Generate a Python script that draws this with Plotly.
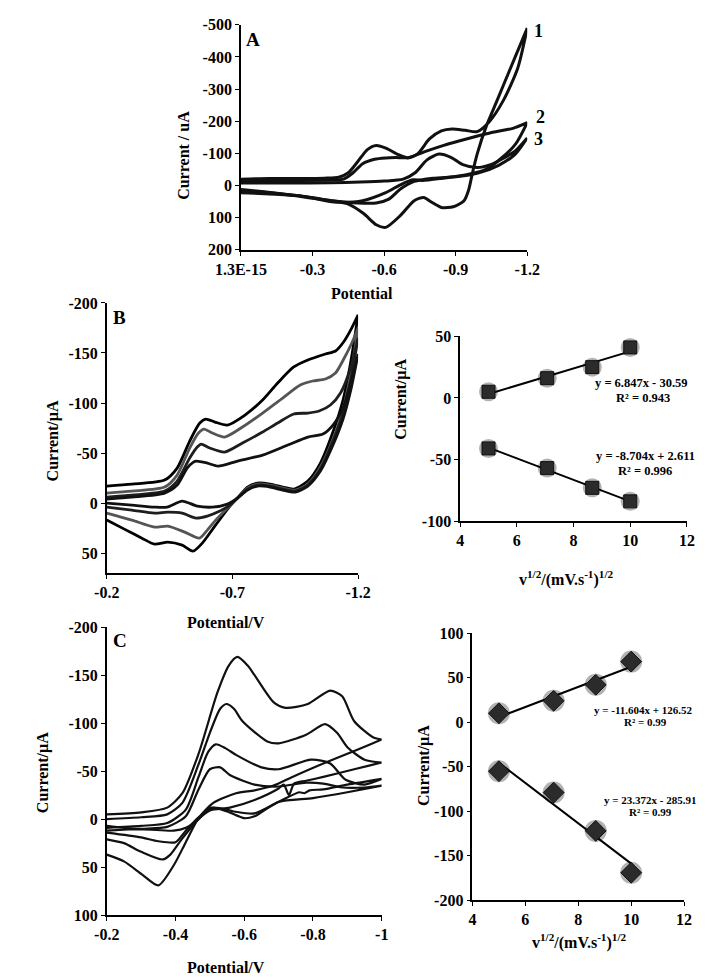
import numpy as np
import plotly.graph_objects as go

W, H = 708, 980
FONT = "Liberation Serif"

# ---------------- Panel A data (Potential / V, Current / uA) ----------------
A1_fwd_V = [0, -0.12, -0.25, -0.35, -0.41, -0.45, -0.49, -0.53, -0.567, -0.61, -0.66, -0.70, -0.74, -0.79, -0.84, -0.885, -0.94, -0.99, -1.04, -1.1, -1.16, -1.2]
A1_fwd_I = [-20, -22, -22, -23, -26, -40, -75, -112, -125, -116, -96, -86, -98, -145, -170, -176, -172, -168, -198, -265, -365, -490]
A1_rev_V = [-1.2, -1.15, -1.1, -1.06, -1.03, -0.99, -0.97, -0.955, -0.935, -0.89, -0.84, -0.8, -0.766, -0.726, -0.67, -0.607, -0.567, -0.514, -0.448, -0.38, -0.25, -0.12, 0]
A1_rev_I = [-490, -401, -312, -241, -188, -98, -38, 12, 47, 66, 68, 52, 37, 47, 92, 130, 122, 87, 57, 47, 32, 22, 17]

A2_fwd_V = [0, -0.2, -0.38, -0.43, -0.47, -0.51, -0.56, -0.607, -0.65, -0.70, -0.78, -0.85, -0.91, -0.98, -1.04, -1.1, -1.14, -1.2]
A2_fwd_I = [-15, -16, -17, -20, -40, -68, -82, -86, -87, -87, -108, -125, -138, -152, -163, -172, -178, -196]
A2_rev_V = [-1.2, -1.15, -1.08, -1.02, -0.94, -0.845, -0.76, -0.72, -0.67, -0.607, -0.51, -0.42, -0.38, -0.25, -0.12, 0]
A2_rev_I = [-196, -128, -78, -48, -33, -23, -16, -18, -3, 22, 47, 52, 50, 32, 26, 22]

A3_fwd_V = [0, -0.2, -0.38, -0.5, -0.6, -0.68, -0.73, -0.78, -0.83, -0.88, -0.93, -0.99, -1.05, -1.1, -1.15, -1.2]
A3_fwd_I = [-8, -8, -9, -11, -14, -20, -40, -80, -98, -88, -65, -56, -66, -85, -108, -148]
A3_rev_V = [-1.2, -1.15, -1.08, -0.99, -0.91, -0.805, -0.726, -0.67, -0.62, -0.567, -0.487, -0.38, -0.18, 0]
A3_rev_I = [-148, -98, -63, -38, -28, -23, -13, 10, 42, 54, 54, 47, 27, 12]

A_xticks = [0, -0.3, -0.6, -0.9, -1.2]
A_xtick_text = ["1.3E-15", "-0.3", "-0.6", "-0.9", "-1.2"]
A_yticks = [-500, -400, -300, -200, -100, 0, 100, 200]

# ---------------- Panel B (CV at different scan rates) ----------------
Ba_fwd_V = [-0.2, -0.3, -0.43, -0.48, -0.53, -0.57, -0.594, -0.63, -0.68, -0.75, -0.82, -0.88, -0.944, -1.0, -1.07, -1.11, -1.145, -1.175, -1.2]
Ba_fwd_I = [-17, -19, -23, -35, -62, -80, -84, -81, -78, -88, -103, -120, -136, -143, -149, -152, -162, -175, -188]
Ba_rev_V = [-1.2, -1.17, -1.14, -1.1, -1.05, -1.0, -0.944, -0.9, -0.85, -0.8, -0.76, -0.72, -0.69, -0.63, -0.58, -0.543, -0.5, -0.443, -0.39, -0.34, -0.27, -0.2]
Ba_rev_I = [-188, -140, -103, -71, -40, -22, -14, -16, -19, -20, -16, -5, 3, 23, 40, 48, 42, 39, 41, 35, 26, 17]

Bb_fwd_V = [-0.2, -0.3, -0.43, -0.48, -0.53, -0.565, -0.587, -0.62, -0.669, -0.74, -0.82, -0.9, -0.97, -1.02, -1.07, -1.11, -1.145, -1.175, -1.2]
Bb_fwd_I = [-10, -12, -16, -28, -55, -70, -74, -70, -66, -76, -90, -105, -118, -122, -124, -130, -145, -160, -175]
Bb_rev_V = [-1.2, -1.17, -1.14, -1.1, -1.05, -1.0, -0.95, -0.9, -0.85, -0.8, -0.76, -0.72, -0.68, -0.63, -0.6, -0.568, -0.51, -0.443, -0.39, -0.3, -0.2]
Bb_rev_I = [-175, -128, -94, -64, -36, -19, -13, -15, -18, -19, -15, -5, 5, 18, 27, 35, 29, 23, 24, 17, 10]

Bc_fwd_V = [-0.2, -0.3, -0.43, -0.48, -0.53, -0.56, -0.575, -0.61, -0.669, -0.74, -0.82, -0.88, -0.944, -1.0, -1.045, -1.09, -1.13, -1.17, -1.2]
Bc_fwd_I = [-6, -8, -12, -22, -45, -56, -59, -55, -51, -60, -71, -80, -89, -90, -92, -98, -110, -135, -165]
Bc_rev_V = [-1.2, -1.17, -1.14, -1.1, -1.05, -1.0, -0.95, -0.9, -0.85, -0.8, -0.76, -0.72, -0.69, -0.65, -0.6, -0.555, -0.5, -0.443, -0.39, -0.3, -0.2]
Bc_rev_I = [-165, -122, -90, -62, -34, -18, -12, -14, -17, -18, -14, -5, 2, 8, 13, 15, 10, 9, 10, 7, 4]

Bd_fwd_V = [-0.2, -0.3, -0.43, -0.48, -0.52, -0.545, -0.556, -0.6, -0.643, -0.72, -0.82, -0.92, -1.0, -1.06, -1.1, -1.14, -1.17, -1.2]
Bd_fwd_I = [-4, -6, -10, -18, -35, -41, -42, -40, -37, -42, -48, -58, -66, -69, -78, -95, -120, -149]
Bd_rev_V = [-1.2, -1.17, -1.14, -1.1, -1.05, -1.0, -0.95, -0.9, -0.85, -0.8, -0.76, -0.72, -0.68, -0.62, -0.56, -0.5, -0.44, -0.39, -0.3, -0.2]
Bd_rev_I = [-149, -112, -84, -58, -32, -17, -11, -13, -16, -17, -13, -5, 1, 4, 3, -2, 4, 4, 2, 0]

B_colors = ["#000000", "#555555", "#1e1e1e", "#111111"]
B_xticks = [-0.2, -0.7, -1.2]
B_yticks = [-200, -150, -100, -50, 0, 50]

# ---------------- Panel B right (peak current vs sqrt(scan rate)) ----------------
sqrt_v = [5, 7.07, 8.66, 10]
B_ipc = [5, 16, 25, 41]
B_ipa = [-41, -57, -73, -84]
B_eq = ["y = 6.847x - 30.59", "R² = 0.943", "y = -8.704x + 2.611", "R² = 0.996"]

# ---------------- Panel C (CV at different scan rates) ----------------
CA_fwd_V = [-0.2, -0.3, -0.376, -0.42, -0.467, -0.522, -0.555, -0.58, -0.61, -0.63, -0.685, -0.72, -0.785, -0.85, -0.885, -0.92, -0.976, -1.0]
CA_fwd_I = [-5, -7, -12, -27, -68, -132, -160, -169, -160, -150, -122, -116, -120, -134, -128, -102, -85, -83]
CA_rev_V = [-1.0, -0.92, -0.83, -0.74, -0.685, -0.63, -0.576, -0.51, -0.467, -0.43, -0.395, -0.35, -0.304, -0.25, -0.2]
CA_rev_I = [-83, -71, -58, -44, -35, -30, -27, -17, -1, 24, 48, 69, 58, 44, 37]

CB_fwd_V = [-0.2, -0.3, -0.376, -0.42, -0.467, -0.5, -0.53, -0.548, -0.57, -0.595, -0.667, -0.70, -0.78, -0.835, -0.87, -0.9, -0.95, -1.0]
CB_fwd_I = [0, -2, -5, -17, -57, -90, -115, -120, -115, -102, -81, -79, -88, -99, -90, -75, -62, -59]
CB_rev_V = [-1.0, -0.92, -0.83, -0.78, -0.745, -0.73, -0.715, -0.70, -0.63, -0.558, -0.5, -0.467, -0.42, -0.385, -0.363, -0.3, -0.25, -0.2]
CB_rev_I = [-59, -52, -44, -40, -37, -25, -36, -32, -20, -12, -9, 0, 20, 37, 42, 34, 25, 21]

CC_fwd_V = [-0.2, -0.3, -0.376, -0.43, -0.467, -0.495, -0.517, -0.545, -0.576, -0.65, -0.70, -0.795, -0.85, -0.895, -0.95, -1.0]
CC_fwd_I = [9, 7, 4, -10, -44, -70, -78, -74, -67, -54, -52, -62, -58, -41, -36, -42]
CC_rev_V = [-1.0, -0.9, -0.83, -0.79, -0.775, -0.76, -0.70, -0.63, -0.57, -0.51, -0.467, -0.43, -0.4, -0.35, -0.3, -0.2]
CC_rev_I = [-42, -36, -31, -30, -27, -28, -18, -6, -8, -12, -2, 12, 24, 23, 19, 14]

CD_fwd_V = [-0.2, -0.3, -0.376, -0.43, -0.467, -0.5, -0.53, -0.558, -0.63, -0.70, -0.78, -0.83, -0.885, -0.95, -1.0]
CD_fwd_I = [12, 10, 8, -3, -31, -52, -54, -46, -36, -34, -38, -37, -33, -33, -35]
CD_rev_V = [-1.0, -0.9, -0.8, -0.7, -0.63, -0.6, -0.55, -0.5, -0.467, -0.43, -0.395, -0.33, -0.25, -0.2]
CD_rev_I = [-35, -28, -22, -18, -3, -1, -8, -12, 0, 9, 12, 11, 9, 7]

C_xticks = [-0.2, -0.4, -0.6, -0.8, -1.0]
C_xtick_text = ["-0.2", "-0.4", "-0.6", "-0.8", "-1"]
C_yticks = [-200, -150, -100, -50, 0, 50, 100]

# ---------------- Panel C right ----------------
C_ipc = [10, 24, 42, 68]
C_ipa = [-55, -79, -122, -169]
C_eq = ["y = -11.604x + 126.52", "R² = 0.99", "y = 23.372x - 285.91", "R² = 0.99"]

LIN_X_TICKS = [4, 6, 8, 10, 12]
B_lin_yticks = [-100, -50, 0, 50]
C_lin_yticks = [-200, -150, -100, -50, 0, 50, 100]

# ============================================================================
def xd(a, b):
    return [a / W, b / W]


def yd(top, bottom):
    return [1 - bottom / H, 1 - top / H]


def px(x):
    return x / W


def py(y):
    return 1 - y / H


def bold(labels):
    return ["<b>%s</b>" % s for s in labels]


def num_text(vals):
    return ["%g" % v for v in vals]


tickfont = dict(family=FONT, size=16, color="black", weight=700)


def axis_style(tickvals, ticktext=None, **kw):
    if ticktext is None:
        ticktext = num_text(tickvals)
    d = dict(showline=True, linecolor="black", linewidth=1.6, ticks="outside",
             ticklen=4, tickwidth=1.3, tickcolor="black", showgrid=False,
             zeroline=False, tickfont=tickfont, mirror=False, fixedrange=True,
             tickvals=tickvals, ticktext=bold(ticktext))
    d.update(kw)
    return d


fig = go.Figure()


def cv(xs, ys, xa, ya, color="black", width=2.6):
    fig.add_trace(go.Scatter(x=xs, y=ys, mode="lines", xaxis=xa, yaxis=ya,
                             line=dict(color=color, width=width, shape="spline", smoothing=0.7),
                             showlegend=False, hoverinfo="skip"))


# Panel A
for fv, fi, rv, ri in [(A1_fwd_V, A1_fwd_I, A1_rev_V, A1_rev_I),
                       (A2_fwd_V, A2_fwd_I, A2_rev_V, A2_rev_I),
                       (A3_fwd_V, A3_fwd_I, A3_rev_V, A3_rev_I)]:
    cv(fv + rv, fi + ri, "x", "y", "#111111", 3.0)

# Panel B
for (fv, fi, rv, ri), col in zip([(Ba_fwd_V, Ba_fwd_I, Ba_rev_V, Ba_rev_I),
                                  (Bb_fwd_V, Bb_fwd_I, Bb_rev_V, Bb_rev_I),
                                  (Bc_fwd_V, Bc_fwd_I, Bc_rev_V, Bc_rev_I),
                                  (Bd_fwd_V, Bd_fwd_I, Bd_rev_V, Bd_rev_I)], B_colors):
    cv(fv + rv, fi + ri, "x2", "y2", col, 2.8)

# Panel C
for fv, fi, rv, ri in [(CA_fwd_V, CA_fwd_I, CA_rev_V, CA_rev_I),
                       (CB_fwd_V, CB_fwd_I, CB_rev_V, CB_rev_I),
                       (CC_fwd_V, CC_fwd_I, CC_rev_V, CC_rev_I),
                       (CD_fwd_V, CD_fwd_I, CD_rev_V, CD_rev_I)]:
    cv(fv + rv, fi + ri, "x4", "y4", "#111111", 2.2)


def scatter_fit(xs, ys, xa, ya, symbol, size):
    xs = np.array(xs, dtype=float)
    ys = np.array(ys, dtype=float)
    k, b = np.polyfit(xs, ys, 1)
    xl = np.array([xs.min(), xs.max()])
    fig.add_trace(go.Scatter(x=xl, y=k * xl + b, mode="lines", xaxis=xa, yaxis=ya,
                             line=dict(color="black", width=2), showlegend=False, hoverinfo="skip"))
    # soft shadow halo
    fig.add_trace(go.Scatter(x=xs, y=ys, mode="markers", xaxis=xa, yaxis=ya,
                             marker=dict(symbol="circle", size=size + 6, color="rgba(0,0,0,0.30)",
                                         line=dict(width=0)),
                             showlegend=False, hoverinfo="skip"))
    fig.add_trace(go.Scatter(x=xs, y=ys, mode="markers", xaxis=xa, yaxis=ya,
                             marker=dict(symbol=symbol, size=size, color="#2b2b2b",
                                         line=dict(color="#111111", width=1)),
                             showlegend=False, hoverinfo="skip"))


scatter_fit(sqrt_v, B_ipc, "x3", "y3", "square", 13)
scatter_fit(sqrt_v, B_ipa, "x3", "y3", "square", 13)
scatter_fit(sqrt_v, C_ipc, "x5", "y5", "diamond", 16)
scatter_fit(sqrt_v, C_ipa, "x5", "y5", "diamond", 16)

fig.update_layout(
    width=W, height=H,
    margin=dict(l=0, r=0, t=0, b=0),
    paper_bgcolor="white", plot_bgcolor="white",
    showlegend=False,
    font=dict(family=FONT, color="black"),
    xaxis=axis_style(A_xticks, A_xtick_text, domain=xd(219, 522), range=[0, -1.2], anchor="y"),
    yaxis=axis_style(A_yticks, domain=yd(9, 238), range=[200, -500], anchor="x"),
    xaxis2=axis_style(B_xticks, domain=xd(77, 343), range=[-0.2, -1.2], anchor="y2"),
    yaxis2=axis_style(B_yticks, domain=yd(292, 567), range=[70, -200], anchor="x2"),
    xaxis3=axis_style(LIN_X_TICKS, domain=xd(451, 691), range=[4, 12], anchor="y3"),
    yaxis3=axis_style(B_lin_yticks, domain=yd(326, 514), range=[-100, 50], anchor="x3"),
    xaxis4=axis_style(C_xticks, C_xtick_text, domain=xd(77, 368), range=[-0.2, -1.0], anchor="y4"),
    yaxis4=axis_style(C_yticks, domain=yd(622, 915), range=[100, -200], anchor="x4"),
    xaxis5=axis_style(LIN_X_TICKS, domain=xd(464, 688), range=[4, 12], anchor="y5"),
    yaxis5=axis_style(C_lin_yticks, domain=yd(628, 900), range=[-200, 100], anchor="x5"),
)

ann = []


def text(x, y, s, size=16, angle=0):
    ann.append(dict(x=px(x), y=py(y), xref="paper", yref="paper", text="<b>%s</b>" % s,
                    showarrow=False, xanchor="center", yanchor="middle", textangle=angle,
                    font=dict(family=FONT, size=size, color="black", weight=700)))


# Panel letters and curve numbers
text(232, 24, "A", 19)
text(91, 307, "B", 19)
text(91, 636, "C", 19)
text(534, 15, "1", 18)
text(536, 103, "2", 18)
text(534, 125, "3", 18)

# Axis titles
text(347, 282, "Potential", 16)
text(158, 142, "Current / uA", 16, -90)
text(203, 617, "Potential/V", 16)
text(20, 432, "Current/µA", 16, -90)
text(389, 390, "Current/µA", 16, -90)
text(563, 572, "v<sup>1/2</sup>/(mV.s<sup>-1</sup>)<sup>1/2</sup>", 16)
text(203, 968, "Potential/V", 16)
text(9, 770, "Current/µA", 16, -90)
text(412, 763, "Current/µA", 16, -90)
text(577, 942, "v<sup>1/2</sup>/(mV.s<sup>-1</sup>)<sup>1/2</sup>", 16)

# Regression labels
text(643, 373, B_eq[0], 12.5)
text(645, 389, B_eq[1], 12.5)
text(647, 448, B_eq[2], 12.5)
text(647, 463, B_eq[3], 12.5)
text(645, 706, C_eq[0], 11)
text(647, 718, C_eq[1], 11)
text(652, 798, C_eq[2], 11)
text(652, 810, C_eq[3], 11)

fig.update_layout(annotations=ann)
fig.write_html("out.html")
